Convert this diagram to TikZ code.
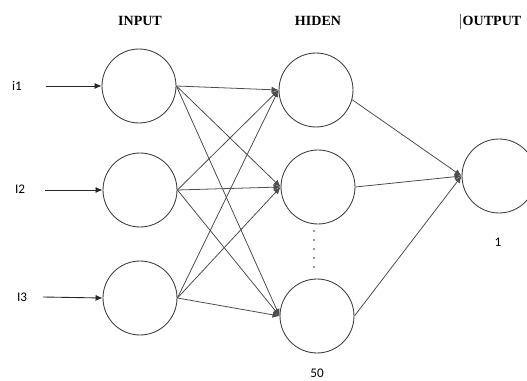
\documentclass[tikz,border=0pt]{standalone}
\usepackage{fontspec}
\setmainfont{Liberation Serif}
\setsansfont{Carlito}
\usetikzlibrary{arrows.meta}

\tikzset{
  neuron/.style={draw=black!75, circle, minimum size=1.48cm, inner sep=0pt, line width=0.5pt},
  layertitle/.style={font=\bfseries\fontsize{8}{9}\selectfont},
  tag/.style={font=\sffamily\fontsize{7.5}{9}\selectfont},
  link/.style={draw=black!70, line width=0.45pt, -{Latex[length=4pt,width=3.5pt]}},
  feed/.style={draw=black!85, line width=0.5pt, -{Latex[length=4pt,width=3.5pt]}}
}

\begin{document}
\begin{tikzpicture}[x=0.02cm, y=-0.02cm]
  \useasboundingbox (0,0) rectangle (527,381);

  \node[layertitle] (tin)  at (140,21) {INPUT};
  \node[layertitle] (thid) at (318,21) {HIDEN};
  \node[layertitle, inner xsep=1pt] (tout) at (492,21) {OUTPUT};
  \draw[black!60, line width=0.4pt] (tout.west |- 0,14) -- (tout.west |- 0,29);

  \node[neuron] (in1) at (139,86)  {};
  \node[neuron] (in2) at (140,190) {};
  \node[neuron] (in3) at (140,298) {};

  \node[neuron] (hid1) at (316,90)  {};
  \node[neuron] (hid2) at (318,187) {};
  \node[neuron] (hid3) at (317,316) {};

  \node[neuron] (out1) at (499,176) {};

  \node[tag] (x1) at (17,86)  {i1};
  \node[tag] (x2) at (20,189) {I2};
  \node[tag] (x3) at (22,297) {I3};

  \coordinate (s1) at (46,86);
  \coordinate (s2) at (45,190);
  \coordinate (s3) at (43,297);
  \draw[feed] (s1) -- (in1.west);
  \draw[feed] (s2) -- (in2.west);
  \draw[feed] (s3) -- (in3.west);

  \foreach \i in {1,2,3}
    \foreach \h in {1,2,3}
      \draw[link] (in\i.east) -- (hid\h.west);

  \draw[link] (hid1.-15) -- (out1.west);
  \draw[link] (hid2.east) -- (out1.west);
  \draw[link] (hid3.east) -- (out1.west);

  \foreach \d in {0,1,2,3,4}
    \fill[black!80] (314,{231+9*\d}) circle (0.5pt);

  \node[tag] (nout) at (498,242) {1};
  \node[tag] (nhid) at (317,373) {50};
\end{tikzpicture}
\end{document}
